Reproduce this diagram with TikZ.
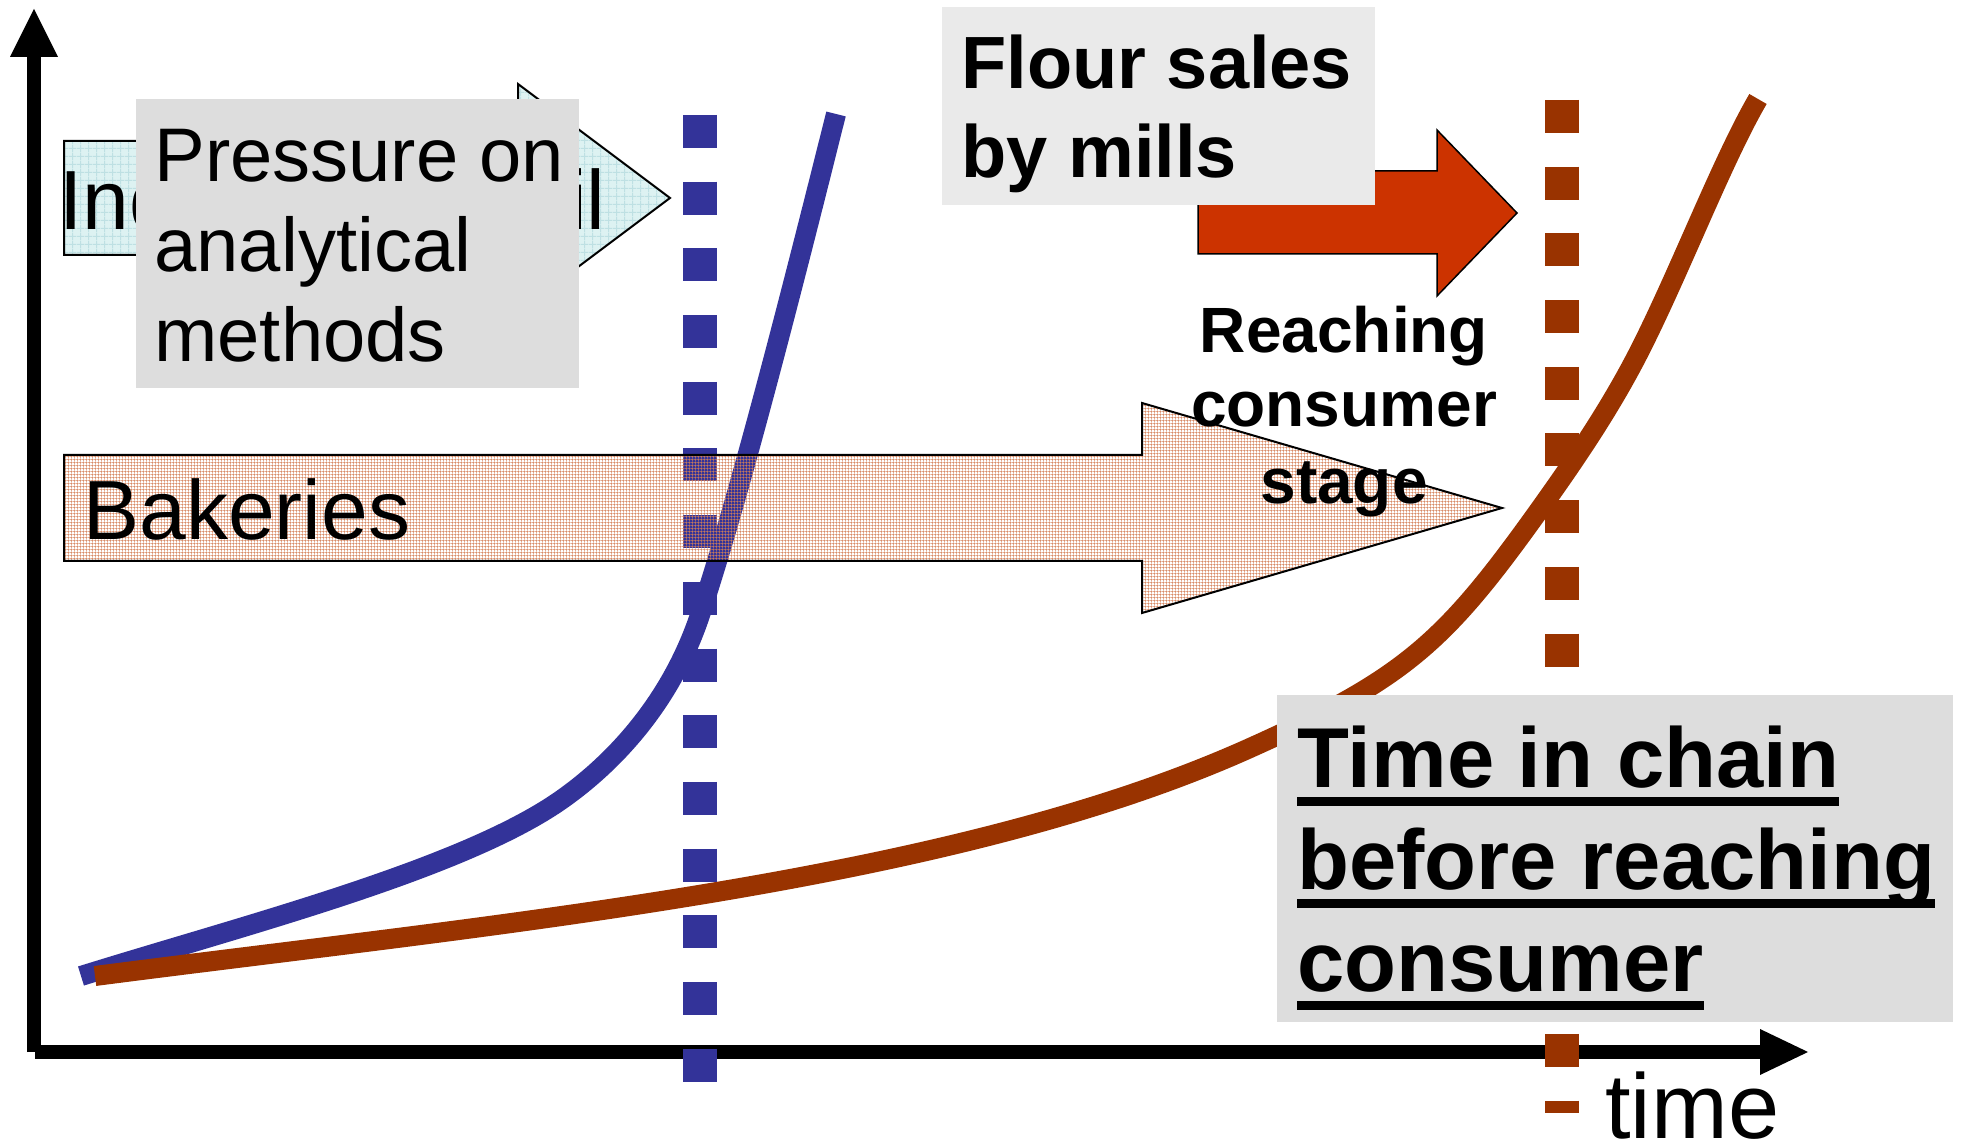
\documentclass[tikz,border=0pt]{standalone}
\usepackage{fontspec}
\setmainfont{Liberation Sans}
\usetikzlibrary{patterns}

\pgfdeclarepatternformonly{bakgrid}{\pgfpointorigin}{\pgfqpoint{1.4pt}{1.4pt}}{\pgfqpoint{1.4pt}{1.4pt}}{%
  \pgfsetlinewidth{0.23pt}%
  \pgfpathmoveto{\pgfqpoint{0pt}{0.7pt}}\pgfpathlineto{\pgfqpoint{1.4pt}{0.7pt}}%
  \pgfpathmoveto{\pgfqpoint{0.7pt}{0pt}}\pgfpathlineto{\pgfqpoint{0.7pt}{1.4pt}}%
  \pgfusepath{stroke}}
\pgfdeclarepatternformonly{indgrid}{\pgfpointorigin}{\pgfqpoint{3.85pt}{3.85pt}}{\pgfqpoint{3.85pt}{3.85pt}}{%
  \pgfsetlinewidth{0.5pt}%
  \pgfpathmoveto{\pgfqpoint{0pt}{1.925pt}}\pgfpathlineto{\pgfqpoint{3.85pt}{1.925pt}}%
  \pgfpathmoveto{\pgfqpoint{1.925pt}{0pt}}\pgfpathlineto{\pgfqpoint{1.925pt}{3.85pt}}%
  \pgfusepath{stroke}}

\definecolor{cblue}{RGB}{51,51,153}
\definecolor{cbrown}{RGB}{153,51,0}
\definecolor{cred}{RGB}{204,51,0}
\definecolor{cgray}{RGB}{221,221,221}
\definecolor{clight}{RGB}{234,234,234}
\definecolor{ccyan}{RGB}{221,242,242}
\definecolor{ccyanline}{RGB}{190,224,227}
\definecolor{cbakline}{RGB}{212,128,88}

\newcommand\fInd{\fontsize{42pt}{50pt}\selectfont}
\newcommand\fPress{\fontsize{38pt}{45pt}\selectfont}
\newcommand\fFlour{\fontsize{37pt}{44pt}\selectfont\bfseries}
\newcommand\fReach{\fontsize{32pt}{38pt}\selectfont\bfseries}
\newcommand\fTimeBox{\fontsize{42.5pt}{51pt}\selectfont\bfseries}
\newcommand\fTimeLbl{\fontsize{46pt}{55pt}\selectfont}

\tikzset{
  lbl/.style={inner sep=0pt, anchor=base west},
  clbl/.style={inner sep=0pt, anchor=base},
  axisline/.style={line width=7pt},
  curveline/.style={line width=10pt},
  vdashline/.style={line width=16.75pt, dash pattern=on 16.5pt off 16.85pt},
  outlined/.style={draw=black, line width=1pt},
  uline/.style={line width=4.5pt},
}

\begin{document}
\begin{tikzpicture}[x=0.5pt,y=-0.5pt]
\fill[white] (0,0) rectangle (1961,1143);
\useasboundingbox (0,0) rectangle (1961,1143);

% Industrial arrow (mostly hidden)
\path[outlined, preaction={fill=ccyan}, pattern=indgrid, pattern color=ccyanline]
  (64,141) -- (518,141) -- (518,84) -- (670,198) -- (518,312) -- (518,255) -- (64,255) -- cycle;
\node[lbl, font=\fInd] (ind) at (59,230) {Industrial retail};

% Pressure box
\fill[cgray] (136,99) rectangle (579,388);
\node[lbl, font=\fPress] (p1) at (154,182) {Pressure on};
\node[lbl, font=\fPress] (p2) at (154,272) {analytical};
\node[lbl, font=\fPress] (p3) at (154,362) {methods};

% Axes
\coordinate (O) at (34,1052);
\coordinate (ybase) at (34,57);
\coordinate (ytip) at (34,9);
\coordinate (ytl) at (10,57);
\coordinate (ytr) at (58,57);
\coordinate (Ox) at (35,1052);
\coordinate (xbase) at (1760,1052);
\coordinate (xtip) at (1808,1052);
\coordinate (xtu) at (1760,1029);
\coordinate (xtd) at (1760,1075);
\draw[axisline] (O) -- (ybase);
\fill (ytl) -- (ytip) -- (ytr) -- cycle;
\draw[axisline] (Ox) -- (xbase);
\fill (xtu) -- (xtip) -- (xtd) -- cycle;

% Curves
\coordinate (b0) at (81,976);
\coordinate (b1) at (561,800);
\coordinate (b2) at (700,615);
\coordinate (b3) at (836,114);
\draw[curveline, cblue] (b0) .. controls (241,926) and (461,870) .. (b1)
  .. controls (611,765) and (670,705) .. (b2)
  .. controls (740,495) and (796,274) .. (b3);
\coordinate (r0) at (95,976);
\coordinate (r1) at (1250,748);
\coordinate (r2) at (1540,509);
\coordinate (r3) at (1642,346);
\coordinate (r4) at (1758,99);
\draw[curveline, cbrown] (r0) .. controls (495,924) and (950,883) .. (r1)
  .. controls (1406,678) and (1445,642) .. (r2)
  .. controls (1575,460) and (1612,406) .. (r3)
  .. controls (1682,266) and (1723,159) .. (r4);

% Dotted verticals
\coordinate (bt) at (700,115);
\coordinate (bb) at (700,1082);
\draw[vdashline, cblue] (bt) -- (bb);
\coordinate (rt) at (1562,100);
\coordinate (rb) at (1562,1113);
\draw[vdashline, cbrown] (rt) -- (rb);

% Bakeries arrow
\path[outlined, pattern=bakgrid, pattern color=cbakline]
  (64,455) -- (1142,455) -- (1142,403) -- (1502,508) -- (1142,613) -- (1142,561) -- (64,561) -- cycle;
\node[lbl, font=\fInd] (bak) at (83,540) {Bakeries};

% Red arrow
\path[draw=black, line width=0.75pt, fill=cred]
  (1198,171) -- (1437,171) -- (1437,130) -- (1517,213) -- (1437,296) -- (1437,254) -- (1198,254) -- cycle;

% Flour box
\fill[clight] (942,7) rectangle (1375,205);
\node[lbl, font=\fFlour] (fl1) at (961,89) {Flour sales};
\node[lbl, font=\fFlour] (fl2) at (961,178) {by mills};

% Reaching consumer stage
\node[clbl, font=\fReach] (rc1) at (1344,353) {Reaching};
\node[clbl, font=\fReach] (rc2) at (1344,427) {consumer};
\node[clbl, font=\fReach] (rc3) at (1344,504) {stage};

% Time box
\fill[cgray] (1277,695) rectangle (1953,1022);
\node[lbl, font=\fTimeBox] (t1) at (1297,788) {Time in chain};
\node[lbl, font=\fTimeBox] (t2) at (1297,890) {before reaching};
\node[lbl, font=\fTimeBox] (t3) at (1297,992) {consumer};
\draw[uline] ([yshift=-6.75pt]t1.base west) -- ([yshift=-6.75pt]t1.base east);
\draw[uline] ([yshift=-6.75pt]t2.base west) -- ([yshift=-6.75pt]t2.base east);
\draw[uline] ([yshift=-6.75pt]t3.base west) -- ([yshift=-6.75pt]t3.base east);

% axis label
\node[lbl, font=\fTimeLbl] (tm) at (1605,1138) {time};
\end{tikzpicture}
\end{document}
